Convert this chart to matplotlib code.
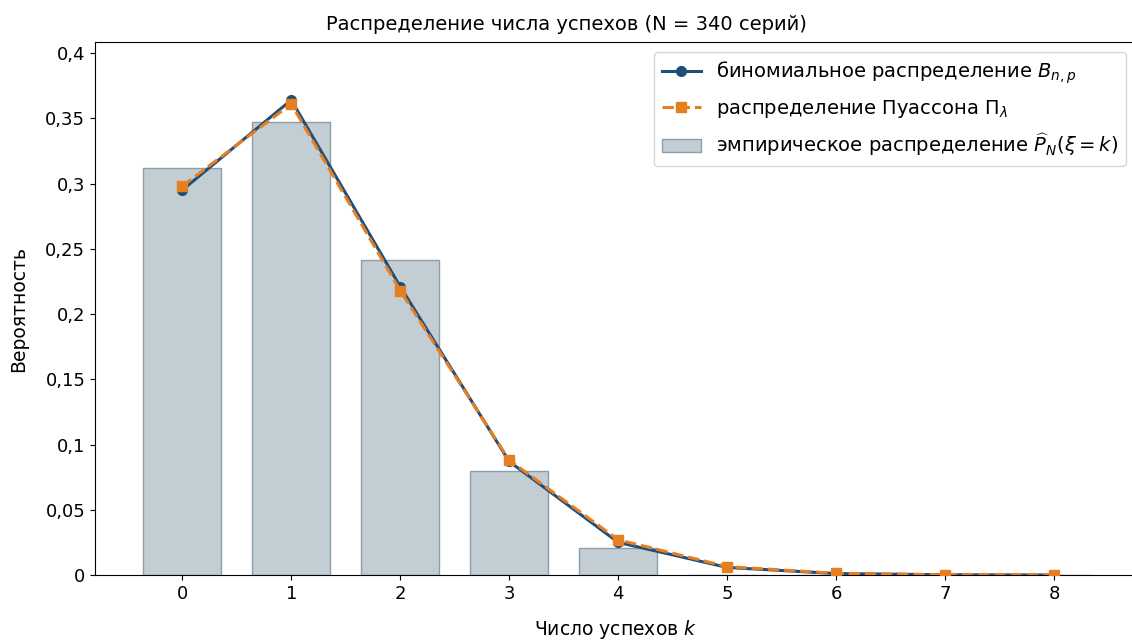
import matplotlib
matplotlib.use("Agg")
import matplotlib.pyplot as plt
from matplotlib.ticker import FuncFormatter, MultipleLocator

N_SERIES = 340
k_values = [0, 1, 2, 3, 4, 5, 6, 7, 8]

# observed counts of series with k successes
counts = [106, 118, 82, 27, 7, 0, 0, 0, 0]
empirical = [c / N_SERIES for c in counts]

binomial = [0.295, 0.364, 0.221, 0.087, 0.025, 0.0058, 0.0011, 0.00018, 0.00002]
poisson = [0.298, 0.361, 0.218, 0.088, 0.027, 0.0064, 0.0013, 0.0002, 0.00004]


def comma_fmt(v, pos):
    return f"{v:g}".replace(".", ",")


fig = plt.figure(figsize=(11.32, 6.41), dpi=100)
ax = fig.add_axes([95 / 1132, 66 / 641, 1041 / 1132, 533 / 641])

ax.bar(k_values, empirical, width=0.72, color="#c2ced4", edgecolor="#8c9fa9",
       linewidth=1.0, label=r"эмпирическое распределение $\widehat{P}_N(\xi = k)$",
       zorder=1)
ax.plot(k_values, binomial, color="#1f4e79", linewidth=2.2, marker="o",
        markersize=7, label=r"биномиальное распределение $B_{n,p}$", zorder=3)
ax.plot(k_values, poisson, color="#e67e22", linewidth=2.2, linestyle="--",
        marker="s", markersize=7, label=r"распределение Пуассона $\Pi_\lambda$",
        zorder=4)

ax.set_xlim(-0.8, 8.75)
ax.set_ylim(0, 0.4085)
ax.set_xticks(k_values)
ax.yaxis.set_major_locator(MultipleLocator(0.05))
ax.yaxis.set_major_formatter(FuncFormatter(comma_fmt))
ax.tick_params(labelsize=13)

# title centred on the figure, not on the (clipped) axes
ax.set_title(f"Распределение числа успехов (N = {N_SERIES} серий)", fontsize=14,
             pad=9, x=(566 - 95) / 1041)
ax.set_xlabel("Число успехов $k$", fontsize=13.5, labelpad=11)
ax.set_ylabel("Вероятность", fontsize=13.5, labelpad=12)
ax.legend(loc="upper right", fontsize=14, labelspacing=0.6)

fig.savefig("out.png", dpi=100)
